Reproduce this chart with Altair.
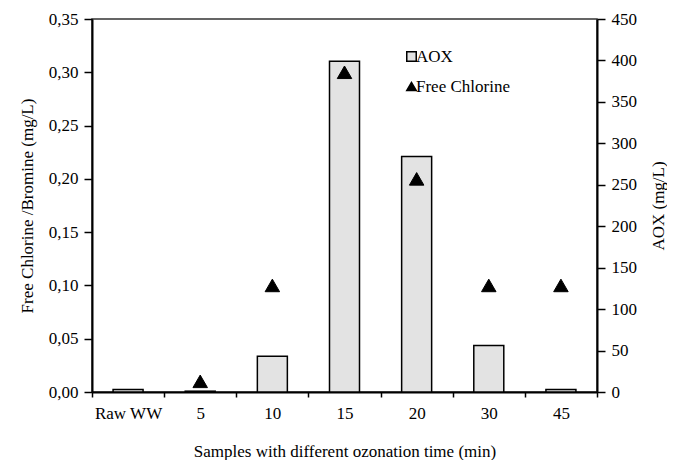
import altair as alt
import pandas as pd

categories = ["Raw WW", "5", "10", "15", "20", "30", "45"]
aox = [3, 1, 43, 399, 284, 56, 3]
free_chlorine = [None, 0.01, 0.10, 0.30, 0.20, 0.10, 0.10]
left_ticks = [0, 0.05, 0.10, 0.15, 0.20, 0.25, 0.30, 0.35]
right_ticks = [0, 50, 100, 150, 200, 250, 300, 350, 400, 450]
legend_labels = ["AOX", "Free Chlorine"]

df = pd.DataFrame({
    "sample": categories,
    "aox": aox,
    "fc": free_chlorine,
    "series": ["Free Chlorine"] * len(categories),
})

FONT = "Liberation Serif"
BAR_FILL = "#e3e3e3"

x_enc = alt.X(
    "sample:N",
    sort=categories,
    scale=alt.Scale(paddingInner=0, paddingOuter=0),
    axis=alt.Axis(
        title="Samples with different ozonation time (min)",
        labelAngle=0,
        tickBand="extent",
        tickSize=5,
        labelPadding=8,
        titlePadding=22,
    ),
)

bars = alt.Chart(df).mark_bar(
    size=30, fill=BAR_FILL, stroke="black", strokeWidth=1.5
).encode(
    x=x_enc,
    y=alt.Y(
        "aox:Q",
        scale=alt.Scale(domain=[0, 450], nice=False),
        axis=alt.Axis(
            orient="right",
            values=right_ticks,
            title="AOX (mg/L)",
            titleAngle=270,
            titleBaseline="top",
            titlePadding=14,
            tickSize=8,
            labelPadding=6,
            grid=False,
        ),
    ),
)

legend = alt.Legend(
    title=None,
    orient="none",
    legendX=311,
    legendY=29,
    padding=0,
    labelFont=FONT,
    labelFontSize=17,
    labelColor="black",
    labelOffset={"expr": "-4"},
    symbolSize=90,
    symbolStrokeWidth=1.5,
    rowPadding=12,
)

points = alt.Chart(df).transform_filter("isValid(datum.fc)").mark_point(
    filled=True, size=210, opacity=1, strokeWidth=1
).encode(
    x=x_enc,
    y=alt.Y(
        "fc:Q",
        scale=alt.Scale(domain=[0, 0.35], nice=False),
        axis=alt.Axis(
            orient="left",
            values=left_ticks,
            labelExpr="replace(format(datum.value, '.2f'), '.', ',')",
            title="Free Chlorine /Bromine (mg/L)",
            titlePadding=12,
            tickSize=8,
            labelPadding=6,
            grid=False,
        ),
    ),
    shape=alt.Shape(
        "series:N",
        scale=alt.Scale(domain=legend_labels, range=["square", "triangle-up"]),
        legend=legend,
    ),
    fill=alt.Fill(
        "series:N",
        scale=alt.Scale(domain=legend_labels, range=[BAR_FILL, "black"]),
        legend=legend,
    ),
    stroke=alt.Stroke(
        "series:N",
        scale=alt.Scale(domain=legend_labels, range=["black", "black"]),
        legend=legend,
    ),
)

chart = alt.layer(bars, points).resolve_scale(y="independent").properties(
    width=505,
    height=373,
    padding={"left": 84, "top": 11, "right": 70, "bottom": 68},
    autosize=alt.AutoSizeParams(type="none"),
).configure_view(
    stroke="#333", strokeWidth=1.5
).configure_axis(
    labelFont=FONT,
    titleFont=FONT,
    labelFontSize=17,
    titleFontSize=17,
    titleFontWeight="normal",
    labelColor="black",
    titleColor="black",
    domainColor="black",
    tickColor="black",
    domainWidth=2,
    tickWidth=1.5,
)

chart.save("out.html", embed_options={"renderer": "svg", "actions": False})
